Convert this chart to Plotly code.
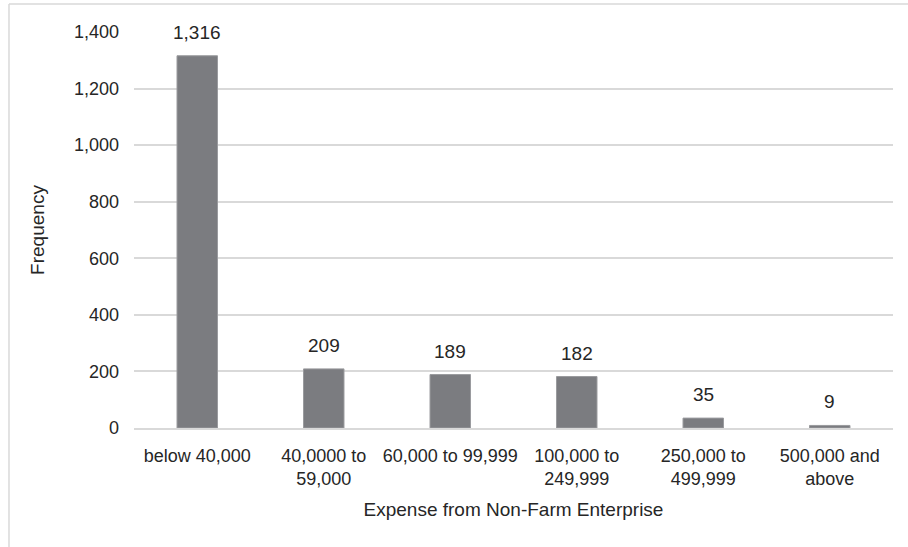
import plotly.graph_objects as go

categories = ["below 40,000", "40,0000 to<br>59,000", "60,000 to 99,999",
              "100,000 to<br>249,999", "250,000 to<br>499,999", "500,000 and<br>above"]
values = [1316, 209, 189, 182, 35, 9]
value_labels = ["1,316", "209", "189", "182", "35", "9"]
y_ticks = [0, 200, 400, 600, 800, 1000, 1200, 1400]
y_tick_labels = ["0", "200", "400", "600", "800", "1,000", "1,200", "1,400"]

FONT = "Liberation Sans, Arial, sans-serif"
TXT = "#262626"

fig = go.Figure()
fig.add_trace(go.Bar(
    x=categories, y=values,
    marker=dict(color="#7b7c80", line=dict(color="#9a9b9e", width=1)),
    width=0.32,
    hoverinfo="skip",
))

for c, v, lab in zip(categories, values, value_labels):
    fig.add_annotation(x=c, y=v, text=lab, showarrow=False, yanchor="bottom",
                       yshift=11, font=dict(family=FONT, size=19, color=TXT))

# outer chart-area border (cropped)
fig.add_shape(type="line", xref="paper", yref="paper",
              x0=-0.1647, x1=-0.1647, y0=1.0707, y1=-0.35,
              line=dict(color="#d9d9d9", width=1.5))
fig.add_shape(type="line", xref="paper", yref="paper",
              x0=-0.1647, x1=1.05, y0=1.0707, y1=1.0707,
              line=dict(color="#d9d9d9", width=1.5))

fig.update_layout(
    width=908, height=547,
    margin=dict(l=134, r=15, t=32, b=119),
    paper_bgcolor="white", plot_bgcolor="white",
    showlegend=False,
    font=dict(family=FONT, size=18, color=TXT),
    xaxis=dict(
        title=dict(text="Expense from Non-Farm Enterprise", font=dict(size=19), standoff=15),
        showline=True, linecolor="#d9d9d9", linewidth=2,
        ticks="", tickfont=dict(size=18),
        ticklabelstandoff=10,
        showgrid=False,
    ),
    yaxis=dict(
        title=dict(text="Frequency", font=dict(size=19), standoff=24),
        range=[0, 1400], tickvals=y_ticks, ticktext=y_tick_labels,
        showgrid=True, gridcolor="#d9d9d9", gridwidth=2,
        zeroline=False, ticks="", tickfont=dict(size=18),
        ticklabelstandoff=14,
    ),
)

fig.write_html("out.html")
